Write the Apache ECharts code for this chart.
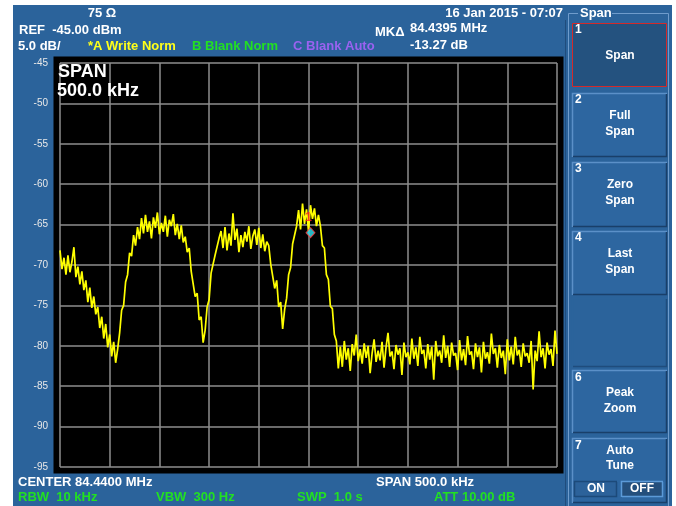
<!DOCTYPE html>
<html>
<head>
<meta charset="utf-8">
<script src="https://cdn.jsdelivr.net/npm/echarts@6/dist/echarts.min.js"></script>
<style>
html,body{margin:0;padding:0;background:#fff;}
#chart{width:676px;height:506px;}
</style>
</head>
<body>
<div id="chart"></div>
<script>
// ---------- DATA ----------
const centerMHz = 84.44;
const spanKHz = 500;
const yTicks = [-95, -90, -85, -80, -75, -70, -65, -60, -55, -50, -45];
// measured trace (dBm), left to right across the 500 kHz sweep
const traceDbm = [
-68.2, -70.5, -69.1, -71.2, -68.8, -70.9, -69.6,
-67.8, -71.5, -70.2, -72.4, -70.8,
-73.1, -71.9, -74.6, -72.8, -75.3, -73.9, -76.1,
-75.2, -77.8, -76.4, -79.1, -77.3,
-80.2, -78.6, -81.3, -79.5, -82.1, -80.4,
-78.4, -75.6, -75.0, -72.1, -71.2, -68.5, -68.9, -66.3, -67.6, -65.3,
-66.8, -64.2, -66.1, -63.8, -65.9, -64.6, -66.7, -64.1, -65.4, -63.5, -66.2, -64.8, -65.9, -63.9, -66.5, -64.4, -65.2, -63.7, -66.3, -64.9, -66.8, -65.1, -67.2,
-66.5, -68.4, -67.9, -70.8, -70.6, -73.9, -73.5, -76.8, -76.4, -79.6, -78.1, -75.2, -74.3, -71.0, -71.2, -68.8, -68.9, -66.7,
-65.8, -67.9, -65.3, -68.2, -66.1, -67.6, -63.6, -66.9, -65.5, -68.4, -66.3, -67.8, -65.9, -67.1, -65.2, -68.0, -66.4, -65.6, -67.5, -65.4, -67.9, -66.2, -68.3, -67.1,
-67.6, -69.9, -69.8, -72.9, -71.9, -75.2, -74.6, -77.9, -75.5, -74.1, -71.2, -70.3, -67.4, -67.6, -65.2,
-63.2, -65.6, -62.4, -64.9, -63.1, -65.8, -62.6, -64.3, -63.0, -65.2, -63.8,
-65.2, -67.6, -67.9, -71.2, -71.8, -75.1, -75.4, -78.6, -79.4, -82.8,
-80.1, -82.6, -79.4, -81.7, -80.3, -83.1, -79.8, -81.2, -78.6, -81.9,
-80.4, -82.2, -79.7, -81.5, -80.0, -83.4, -80.9, -79.2, -82.0, -80.6,
-81.8, -79.5, -82.7, -80.2, -78.4, -81.3, -80.7, -82.9, -79.9, -81.1,
-80.3, -83.6, -79.6, -81.4, -80.8, -82.3, -79.1, -81.6, -80.2, -82.5,
-78.9, -81.0, -80.5, -82.8, -79.8, -81.7, -80.1, -84.2, -79.4, -81.3,
-80.6, -82.1, -78.7, -81.5, -80.0, -82.6, -79.6, -81.2, -80.9, -83.0,
-79.3, -81.8, -80.4, -82.4, -78.8, -81.1, -80.7, -82.9, -79.7, -81.4,
-80.2, -83.3, -79.5, -81.6, -80.8, -82.2, -78.5, -81.0, -80.3, -82.7,
-79.9, -81.5, -80.6, -83.5, -79.2, -81.8, -80.1, -82.3, -78.9, -81.2,
-80.5, -82.6, -79.7, -81.3, -80.9, -82.1, -79.4, -85.4, -80.6, -81.9,
-78.2, -81.4, -80.3, -82.8, -79.6, -81.1, -80.4, -82.5, -78.1, -81.0
];
// marker 1 (offset from center in kHz, level in dBm)
const markerKHz = [2];
const markerDb = [-66.0];

// ---------- BUILD ----------
const stepKHz = spanKHz / (traceDbm.length - 1);
const traceData = traceDbm.map((v, i) => [-spanKHz / 2 + i * stepKHz, v]);
const markerData = markerKHz.map((f, i) => [f, markerDb[i]]);

const BLUE = '#2b639b';
const F = (size, w) => (w || 'bold') + ' ' + size + 'px "Liberation Sans", Arial, sans-serif';
function txt(text, x, y, opt) {
  opt = opt || {};
  return {
    type: 'text', z: 10,
    style: {
      text: text, x: x, y: y,
      fill: opt.color || '#ffffff',
      font: F(opt.size || 13),
      textAlign: opt.align || 'left',
      textVerticalAlign: 'middle'
    }
  };
}
function key(x, y, w, h, opt) {
  opt = opt || {};
  const els = [{
    type: 'rect', z: 5,
    shape: { x: x, y: y, width: w, height: h },
    style: { fill: opt.fill || '#2d66a0' }
  }];
  if (opt.red) {
    els.push({ type: 'rect', z: 6, shape: { x: x + 0.5, y: y + 0.5, width: w - 1, height: h - 1 },
      style: { fill: 'none', stroke: '#d42a2a', lineWidth: 1 } });
  } else {
    els.push({ type: 'polyline', z: 6, shape: { points: [[x + 0.5, y + h], [x + 0.5, y + 0.5], [x + w, y + 0.5]] },
      style: { stroke: opt.light || '#5b90c8', lineWidth: 1.5, fill: 'none' } });
    els.push({ type: 'polyline', z: 6, shape: { points: [[x + 1, y + h - 0.5], [x + w - 0.5, y + h - 0.5], [x + w - 0.5, y + 1]] },
      style: { stroke: opt.dark || '#193f69', lineWidth: 1.5, fill: 'none' } });
  }
  return els;
}

const graphics = [
  // white page margins
  { type: 'rect', z: 1, shape: { x: 0, y: 0, width: 676, height: 5 }, style: { fill: '#ffffff' } },
  { type: 'rect', z: 1, shape: { x: 0, y: 0, width: 13, height: 506 }, style: { fill: '#ffffff' } },
  { type: 'rect', z: 1, shape: { x: 672, y: 0, width: 4, height: 506 }, style: { fill: '#ffffff' } },
  // soft key group frame
  { type: 'polyline', z: 4, shape: { points: [[578, 13.5], [568.5, 13.5], [568.5, 506]] }, style: { stroke: '#6f9ccc', lineWidth: 1, fill: 'none' } },
  { type: 'polyline', z: 4, shape: { points: [[612, 13.5], [668.5, 13.5], [668.5, 506]] }, style: { stroke: '#6f9ccc', lineWidth: 1, fill: 'none' } },
  { type: 'line', z: 4, shape: { x1: 565.5, y1: 20, x2: 565.5, y2: 506 }, style: { stroke: '#1f4c7c', lineWidth: 1 } },
  // header texts
  txt('75 Ω', 102, 13, { align: 'center' }),
  txt('REF  -45.00 dBm', 19, 30),
  txt('5.0 dB/', 18, 46),
  txt('*A Write Norm', 88, 46, { color: '#ffff1a' }),
  txt('B Blank Norm', 192, 46, { color: '#22e022' }),
  txt('C Blank Auto', 293, 46, { color: '#9a62f0' }),
  txt('16 Jan 2015 - 07:07', 563, 13, { align: 'right' }),
  txt('MKΔ', 375, 32),
  txt('84.4395 MHz', 410, 28),
  txt('-13.27 dB', 410, 45),
  txt('Span', 580, 13),
  // in-plot annotation
  txt('SPAN', 58, 72, { size: 18 }),
  txt('500.0 kHz', 57, 91, { size: 18 }),
  // footer texts
  txt('CENTER 84.4400 MHz', 18, 482),
  txt('SPAN 500.0 kHz', 376, 482),
  txt('RBW  10 kHz', 18, 497, { color: '#22e022' }),
  txt('VBW  300 Hz', 156, 497, { color: '#22e022' }),
  txt('SWP  1.0 s', 297, 497, { color: '#22e022' }),
  txt('ATT 10.00 dB', 434, 497, { color: '#22e022' })
];
// soft keys
[].push.apply(graphics, key(572, 23, 95, 64, { red: true, fill: '#24527f' }));
[].push.apply(graphics, key(572, 93, 95, 64));
[].push.apply(graphics, key(572, 162, 95, 65));
[].push.apply(graphics, key(572, 231, 95, 64));
[].push.apply(graphics, key(572, 298, 95, 69, { light: '#2b639b', dark: '#1f4c7c', fill: '#2b639b' }));
[].push.apply(graphics, key(572, 370, 95, 63));
[].push.apply(graphics, key(572, 438, 95, 65));
[].push.apply(graphics, key(574, 481, 43, 16, { fill: '#2c629a', light: '#1c4a7a', dark: '#1c4a7a' }));
[].push.apply(graphics, key(621, 481, 42, 16, { fill: '#244f7c', light: '#5b9ad8', dark: '#5b9ad8' }));
graphics.push(
  txt('1', 575, 30, { size: 12 }), txt('Span', 620, 56, { size: 12, align: 'center' }),
  txt('2', 575, 100, { size: 12 }), txt('Full', 620, 116, { size: 12, align: 'center' }), txt('Span', 620, 132, { size: 12, align: 'center' }),
  txt('3', 575, 169, { size: 12 }), txt('Zero', 620, 185, { size: 12, align: 'center' }), txt('Span', 620, 201, { size: 12, align: 'center' }),
  txt('4', 575, 238, { size: 12 }), txt('Last', 620, 254, { size: 12, align: 'center' }), txt('Span', 620, 270, { size: 12, align: 'center' }),
  txt('6', 575, 378, { size: 12 }), txt('Peak', 620, 393, { size: 12, align: 'center' }), txt('Zoom', 620, 409, { size: 12, align: 'center' }),
  txt('7', 575, 446, { size: 12 }), txt('Auto', 620, 451, { size: 12, align: 'center' }), txt('Tune', 620, 466, { size: 12, align: 'center' }),
  txt('ON', 596, 489, { size: 12, align: 'center' }), txt('OFF', 642, 489, { size: 12, align: 'center' })
);

const chart = echarts.init(document.getElementById('chart'), null, { renderer: 'canvas' });
chart.setOption({
  animation: false,
  backgroundColor: BLUE,
  grid: {
    left: 60, right: 119, top: 63, bottom: 39,
    show: true, backgroundColor: '#000000', borderColor: '#000000', borderWidth: 13
  },
  xAxis: {
    type: 'value', min: -spanKHz / 2, max: spanKHz / 2, interval: 50,
    axisLine: { show: false }, axisTick: { show: false }, axisLabel: { show: false },
    splitLine: { show: true, lineStyle: { color: '#8e8e8e', width: 1.5 } }
  },
  yAxis: {
    type: 'value', min: yTicks[0], max: yTicks[yTicks.length - 1], interval: 5,
    axisLine: { show: false }, axisTick: { show: false },
    axisLabel: { color: '#e8e8e8', fontSize: 10, margin: 12,
      fontFamily: '"Liberation Sans Narrow", "Liberation Sans", Arial, sans-serif' },
    splitLine: { show: true, lineStyle: { color: '#8e8e8e', width: 1.5 } }
  },
  series: [
    {
      type: 'line', data: traceData, symbol: 'none', smooth: false,
      lineStyle: { color: '#ffff00', width: 1.7 }, z: 3
    },
    {
      type: 'scatter', data: markerData, symbol: 'diamond', symbolSize: [9, 10], z: 4,
      itemStyle: { color: '#2fe4f2', borderColor: '#ff3a3a', borderWidth: 1 },
      label: { show: true, formatter: '1', position: 'top', distance: 3, offset: [-2, 0],
        color: '#ff2020', fontSize: 13, fontWeight: 'bold' }
    }
  ],
  graphic: { elements: graphics }
});
</script>
</body>
</html>
